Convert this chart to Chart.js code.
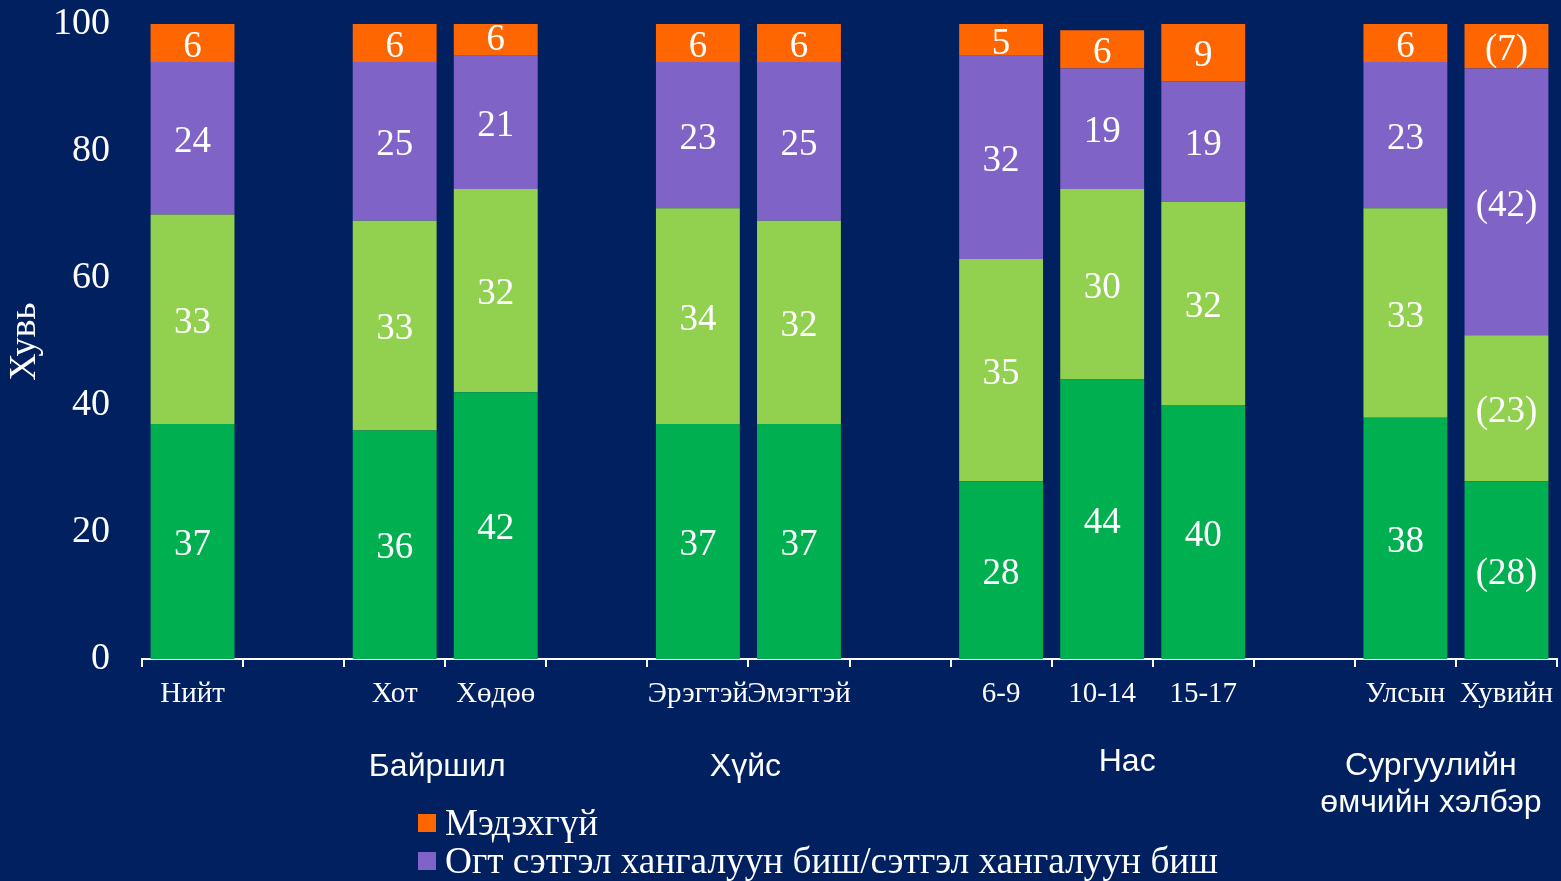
<!DOCTYPE html>
<html lang="mn">
<head>
<meta charset="UTF-8">
<script src="https://cdn.jsdelivr.net/npm/chart.js"></script>
<style>
  html, body { margin: 0; padding: 0; background: #012060; overflow: hidden; }
  #wrap { position: relative; width: 1561px; height: 881px; }
</style>
</head>
<body>
<div id="wrap"><canvas id="chart" width="1561" height="881"></canvas></div>
<script>
// categories ('' = spacer between groups)
const categories = ['Нийт', '', 'Хот', 'Хөдөө', '', 'Эрэгтэй', 'Эмэгтэй', '', '6-9', '10-14', '15-17', '', 'Улсын', 'Хувийн'];

// series values, bottom to top
const satisfied   = [37, null, 36, 42, null, 37, 37, null, 28, 44, 40, null, 38, 28];
const medium      = [33, null, 33, 32, null, 34, 32, null, 35, 30, 32, null, 33, 23];
const unsatisfied = [24, null, 25, 21, null, 23, 25, null, 32, 19, 19, null, 23, 42];
const dontKnow    = [6, null, 6, 6, null, 6, 6, null, 5, 6, 9, null, 6, 7];

// categories whose labels are shown in brackets
const bracketed = [false, false, false, false, false, false, false, false, false, false, false, false, false, true];

const yTicks = [0, 20, 40, 60, 80, 100];

const groupNames = ['Байршил', 'Хүйс', 'Нас', ['Сургуулийн', 'өмчийн хэлбэр']];

const legendItems = ['Мэдэхгүй', 'Огт сэтгэл хангалуун биш/сэтгэл хангалуун биш'];

const colors = {
  satisfied: '#00b050',
  medium: '#92d050',
  unsatisfied: '#7f63c6',
  dontKnow: '#ff6600'
};

const SERIF = '"Liberation Serif", "Times New Roman", serif';
const SANS = '"Liberation Sans", Arial, sans-serif';

// white numbers inside each segment
const segmentLabels = {
  id: 'segmentLabels',
  afterDatasetsDraw(chart) {
    const ctx = chart.ctx;
    ctx.save();
    ctx.fillStyle = '#ffffff';
    ctx.font = '37px ' + SERIF;
    ctx.textAlign = 'center';
    ctx.textBaseline = 'middle';
    chart.data.datasets.forEach((ds, di) => {
      const meta = chart.getDatasetMeta(di);
      meta.data.forEach((bar, i) => {
        const v = ds.data[i];
        if (v == null) return;
        const txt = bracketed[i] ? '(' + v + ')' : String(v);
        ctx.fillText(txt, bar.x, (bar.y + bar.base) / 2 + 4);
      });
    });
    ctx.restore();
  }
};

// group captions under the axis and the legend at the bottom
const extras = {
  id: 'extras',
  afterDraw(chart) {
    const ctx = chart.ctx;
    const x = chart.scales.x;
    ctx.save();
    ctx.fillStyle = '#ffffff';
    ctx.textAlign = 'center';
    ctx.textBaseline = 'middle';
    ctx.font = '32px ' + SANS;
    const anchors = [
      { x: (x.getPixelForValue(2) + x.getPixelForValue(3)) / 2 - 8, y: 767 },
      { x: (x.getPixelForValue(5) + x.getPixelForValue(6)) / 2 - 3, y: 767 },
      { x: x.getPixelForValue(9) + 25, y: 762 },
      { x: (x.getPixelForValue(12) + x.getPixelForValue(13)) / 2 - 25, y: 766 }
    ];
    groupNames.forEach((g, i) => {
      const lines = Array.isArray(g) ? g : [g];
      lines.forEach((ln, j) => ctx.fillText(ln, anchors[i].x, anchors[i].y + j * 37));
    });

    const legendColors = [colors.dontKnow, colors.unsatisfied];
    const legendWidths = [153, 773];
    ctx.textAlign = 'left';
    ctx.font = '38px ' + SERIF;
    legendItems.forEach((t, i) => {
      const y = 823 + i * 38;
      ctx.fillStyle = legendColors[i];
      ctx.fillRect(418, y - 9, 18, 18);
      ctx.fillStyle = '#ffffff';
      ctx.fillText(t, 445, y + 2, legendWidths[i]);
    });
    ctx.restore();
  }
};

new Chart(document.getElementById('chart'), {
  type: 'bar',
  data: {
    labels: categories,
    datasets: [
      { label: 'satisfied', data: satisfied, backgroundColor: colors.satisfied },
      { label: 'medium', data: medium, backgroundColor: colors.medium },
      { label: 'Огт сэтгэл хангалуун биш/сэтгэл хангалуун биш', data: unsatisfied, backgroundColor: colors.unsatisfied },
      { label: 'Мэдэхгүй', data: dontKnow, backgroundColor: colors.dontKnow }
    ]
  },
  options: {
    responsive: false,
    animation: false,
    layout: { padding: { left: 0, right: 4, top: 24, bottom: 0 } },
    datasets: { bar: { categoryPercentage: 1, barPercentage: 0.83 } },
    scales: {
      x: {
        stacked: true,
        afterFit: s => { s.height = 222; s.paddingLeft = 0; s.paddingRight = 0; },
        border: { display: true, color: '#ffffff', width: 2 },
        grid: { display: true, drawOnChartArea: false, drawTicks: true, tickLength: 8, color: '#ffffff', lineWidth: 2, offset: true },
        ticks: {
          color: '#ffffff',
          autoSkip: false,
          maxRotation: 0,
          padding: 10,
          font: { family: SERIF, size: 29 }
        }
      },
      y: {
        stacked: true,
        min: 0,
        max: 100,
        afterFit: s => { s.width = 142; s.paddingTop = 0; s.paddingBottom = 0; },
        afterBuildTicks: s => { s.ticks = yTicks.map(v => ({ value: v })); },
        border: { display: false },
        grid: { display: false, drawTicks: false },
        ticks: {
          color: '#ffffff',
          padding: 32,
          font: { family: SERIF, size: 38 }
        },
        title: {
          display: true,
          text: 'Хувь',
          color: '#ffffff',
          padding: 2,
          font: { family: SERIF, size: 38 }
        }
      }
    },
    plugins: {
      legend: { display: false },
      tooltip: { enabled: false }
    }
  },
  plugins: [segmentLabels, extras]
});
</script>
</body>
</html>
